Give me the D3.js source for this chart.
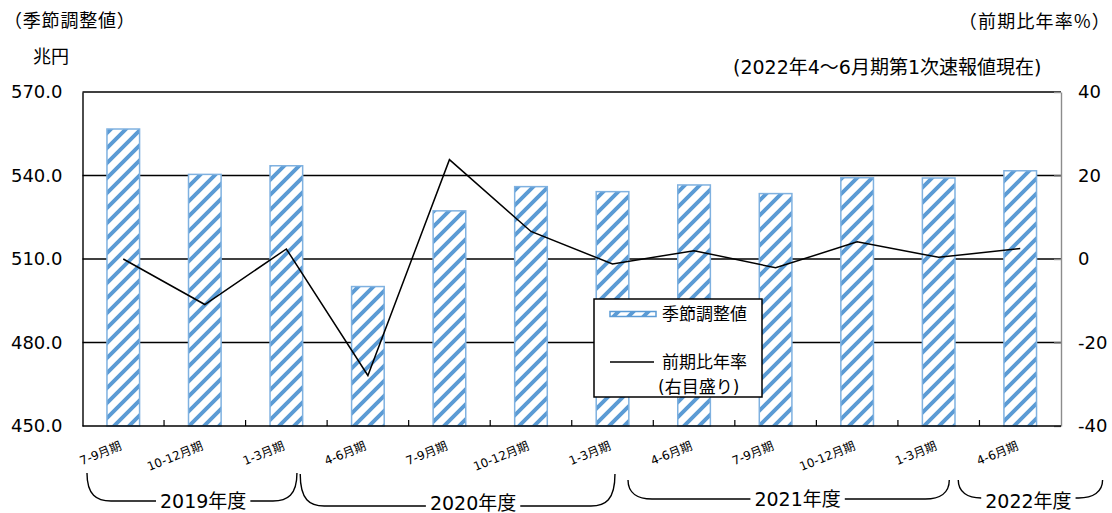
<!DOCTYPE html>
<html>
<head>
<meta charset="utf-8">
<script src="https://cdn.jsdelivr.net/npm/d3@7"></script>
<style>
  body { margin: 0; background: #fff; }
  svg { display: block; }
  text { font-family: "DejaVu Sans", "Noto Sans CJK JP", sans-serif; fill: #000; }
  text.jp { font-family: "Noto Sans CJK JP", "DejaVu Sans", sans-serif; }
</style>
</head>
<body>
<svg id="chart" width="1112" height="513"></svg>
<script>
// quarters (x axis), 2019 Q3 .. 2022 Q2
var quarters = ['7-9月期', '10-12月期', '1-3月期', '4-6月期', '7-9月期', '10-12月期',
                '1-3月期', '4-6月期', '7-9月期', '10-12月期', '1-3月期', '4-6月期'];
// seasonally adjusted values, trillion yen (left axis)
var seasonal = [556.7, 540.4, 543.5, 500.1, 527.3, 536.0, 534.2, 536.6, 533.5, 539.2, 539.1, 541.7];
// q/q annualized growth, % (right axis)
var growth = [0.0, -10.9, 2.4, -27.9, 23.8, 6.6, -1.2, 2.0, -2.1, 4.1, 0.4, 2.5];
var leftTicks = [450, 480, 510, 540, 570];
var rightTicks = [-40, -20, 0, 20, 40];
// fiscal years under the axis
var fiscalYears = ['2019年度', '2020年度', '2021年度', '2022年度'];

(function() {
  var blue = '#5b9bd5';
  var svg = d3.select('#chart');
  var pLeft = 82.5, pRight = 1061, pTop = 92, pBottom = 426;

  var x = d3.scaleBand()
    .domain(d3.range(quarters.length))
    .range([pLeft, pRight])
    .paddingInner(0.6)
    .paddingOuter(0.3);
  var bw = x.bandwidth();
  var step = x.step();
  var cx = function(i) { return x(i) + bw / 2; };

  var yL = d3.scaleLinear().domain([450, 570]).range([pBottom, pTop]);
  var yR = d3.scaleLinear().domain([-40, 40]).range([pBottom, pTop]);

  // stripe pattern for the bars
  var pat = svg.append('defs').append('pattern')
    .attr('id', 'stripe')
    .attr('patternUnits', 'userSpaceOnUse')
    .attr('width', 15).attr('height', 15);
  pat.append('rect').attr('width', 15).attr('height', 15).attr('fill', '#fff');
  pat.append('path')
    .attr('d', 'M0,15 L15,0 M-7.5,7.5 L7.5,-7.5 M7.5,22.5 L22.5,7.5')
    .attr('stroke', blue).attr('stroke-width', 3.9);

  // gridlines
  svg.append('g').selectAll('line')
    .data(leftTicks.slice(1))
    .enter().append('line')
      .attr('x1', pLeft).attr('x2', pRight)
      .attr('y1', yL).attr('y2', yL)
      .attr('stroke', '#000').attr('stroke-width', 1.4);

  // bars
  svg.append('g').selectAll('rect')
    .data(seasonal)
    .enter().append('rect')
      .attr('x', function(d, i) { return x(i); })
      .attr('y', function(d) { return yL(d); })
      .attr('width', bw)
      .attr('height', function(d) { return yL(450) - yL(d); })
      .attr('fill', 'url(#stripe)')
      .attr('stroke', '#7fb1e0').attr('stroke-width', 1.5);

  // left axis
  var gL = svg.append('g')
    .attr('transform', 'translate(' + pLeft + ',0)')
    .call(d3.axisLeft(yL).tickValues(leftTicks).tickFormat(d3.format('.1f'))
      .tickSize(0).tickPadding(20));
  gL.select('.domain').attr('stroke', '#000').attr('stroke-width', 1.4);
  gL.selectAll('text').style('font-size', '18px')
    .style('font-family', '"DejaVu Sans", sans-serif');

  // right axis (grey, inward ticks); plain hyphen for negatives
  var gR = svg.append('g')
    .attr('transform', 'translate(' + pRight + ',0)')
    .call(d3.axisRight(yR).tickValues(rightTicks)
      .tickFormat(function(d) { return String(d); })
      .tickSizeInner(-7).tickSizeOuter(0).tickPadding(17));
  gR.select('.domain').attr('stroke', '#8c8c8c').attr('stroke-width', 1.4);
  gR.selectAll('line').attr('stroke', '#8c8c8c').attr('stroke-width', 1.4);
  gR.selectAll('text').style('font-size', '18px')
    .style('font-family', '"DejaVu Sans", sans-serif');

  // bottom axis line with inward ticks between quarters
  svg.append('line')
    .attr('x1', pLeft).attr('x2', pRight)
    .attr('y1', pBottom).attr('y2', pBottom)
    .attr('stroke', '#000').attr('stroke-width', 1.5);
  svg.append('g').selectAll('line')
    .data(d3.range(1, quarters.length))
    .enter().append('line')
      .attr('x1', function(i) { return x(i) - step * 0.3; })
      .attr('x2', function(i) { return x(i) - step * 0.3; })
      .attr('y1', pBottom).attr('y2', pBottom - 6)
      .attr('stroke', '#000').attr('stroke-width', 1.2);

  // growth line
  var line = d3.line()
    .x(function(d, i) { return cx(i); })
    .y(function(d) { return yR(d); });
  svg.append('path')
    .datum(growth)
    .attr('d', line)
    .attr('fill', 'none')
    .attr('stroke', '#000').attr('stroke-width', 1.5);

  // quarter labels
  svg.append('g').selectAll('text')
    .data(quarters)
    .enter().append('text')
      .attr('transform', function(d, i) {
        return 'translate(' + (cx(i) - 1) + ',449) rotate(-22)'; })
      .attr('text-anchor', 'end')
      .style('font-size', '12px')
      .text(function(d) { return d; });

  // fiscal year braces, placed in quarter units
  var u = d3.scaleLinear().domain([0, quarters.length]).range([pLeft, pRight]);
  var braceL = [0.055, 2.67, 6.69, 10.74];
  var braceR = [2.63, 6.53, 10.63, 12.51];
  var braceTextC = [1.48, 4.79, 8.77, 11.6];
  var braceTop = [473, 474, 480, 480];
  var braceBot = [501, 506, 499, 498];
  var braceBase = [507.5, 509.5, 505.5, 507.5];
  fiscalYears.forEach(function(label, k) {
    var xl = u(braceL[k]), xr = u(braceR[k]), tc = u(braceTextC[k]);
    var yt = braceTop[k], yb = braceBot[k];
    var t = svg.append('text')
      .attr('x', tc).attr('y', braceBase[k])
      .attr('text-anchor', 'middle')
      .style('font-size', '19px')
      .text(label);
    var tw = t.node().getComputedTextLength();
    var gap = 4;
    var r = Math.min(24, (tc - tw / 2 - gap) - xl);
    var r2 = Math.min(24, xr - (tc + tw / 2 + gap));
    var p = d3.path();
    p.moveTo(xl, yt);
    p.bezierCurveTo(xl, yb - 6, xl + r * 0.4, yb, xl + r, yb);
    p.lineTo(tc - tw / 2 - gap, yb);
    p.moveTo(tc + tw / 2 + gap, yb);
    p.lineTo(xr - r2, yb);
    p.bezierCurveTo(xr - r2 * 0.4, yb, xr, yb - 6, xr, yt);
    svg.append('path').attr('d', p.toString())
      .attr('fill', 'none').attr('stroke', '#000').attr('stroke-width', 1.4);
  });

  // titles
  svg.append('text').attr('class', 'jp').attr('x', 4).attr('y', 27)
    .style('font-size', '18px').style('letter-spacing', '0.8px')
    .text('（季節調整値）');
  svg.append('text').attr('class', 'jp').attr('x', 33).attr('y', 63)
    .style('font-size', '18px').text('兆円');
  svg.append('text').attr('class', 'jp').attr('x', 1111).attr('y', 28)
    .attr('text-anchor', 'end')
    .style('font-size', '18px').style('letter-spacing', '1.2px')
    .text('（前期比年率%）');
  svg.append('text').attr('x', 733).attr('y', 74)
    .style('font-size', '19px').text('(2022年4～6月期第1次速報値現在)');

  // legend
  var lg = svg.append('g');
  lg.append('rect')
    .attr('x', 594).attr('y', 299).attr('width', 168).attr('height', 98)
    .attr('fill', '#fff').attr('stroke', '#000').attr('stroke-width', 1.5);
  lg.append('rect')
    .attr('x', 610).attr('y', 311.5).attr('width', 46).attr('height', 5)
    .attr('fill', 'url(#stripe)').attr('stroke', blue).attr('stroke-width', 1.5);
  lg.append('text').attr('x', 662).attr('y', 320)
    .style('font-size', '17px').text('季節調整値');
  lg.append('line')
    .attr('x1', 610).attr('x2', 654).attr('y1', 362).attr('y2', 362)
    .attr('stroke', '#000').attr('stroke-width', 1.5);
  lg.append('text').attr('x', 662).attr('y', 368)
    .style('font-size', '17px').text('前期比年率');
  lg.append('text').attr('x', 658).attr('y', 393)
    .style('font-size', '17px').text('(右目盛り)');
})();
</script>
</body>
</html>
